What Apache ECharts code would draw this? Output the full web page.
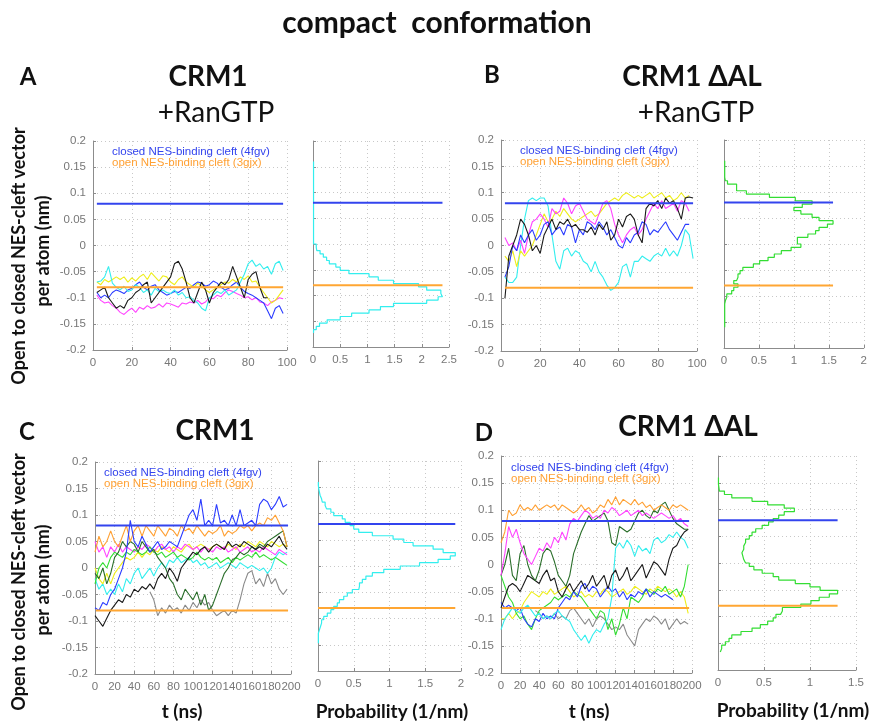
<!DOCTYPE html>
<html>
<head>
<meta charset="utf-8">
<script src="https://cdn.jsdelivr.net/npm/echarts@6/dist/echarts.min.js"></script>
<style>
html, body { margin: 0; padding: 0; background: #fff; }
#main { width: 870px; height: 722px; }
</style>
</head>
<body>
<div id="main"></div>
<script>
// time axes
var tAB = [2,4,6,8,10,12,14,16,18,20,22,24,26,28,30,32,34,36,38,40,42,44,46,48,50,52,54,56,58,60,62,64,66,68,70,72,74,76,78,80,82,84,86,88,90,92,94,96,98];
var tCD = [0,4,8,12,16,20,24,28,32,36,40,44,48,52,56,60,64,68,72,76,80,84,88,92,96,100,104,108,112,116,120,124,128,132,136,140,144,148,152,156,160,164,168,172,176,180,184,188,192,196];

// reference structures
var refClosed = 0.08;
var refOpen = -0.08;

// panel A: CRM1 + RanGTP
var aCyan = [-0.07,-0.068,-0.06,-0.04,-0.072,-0.08,-0.085,-0.078,-0.088,-0.085,-0.075,-0.08,-0.09,-0.085,-0.095,-0.082,-0.088,-0.085,-0.09,-0.092,-0.085,-0.095,-0.09,-0.1,-0.098,-0.105,-0.11,-0.12,-0.125,-0.1,-0.095,-0.088,-0.092,-0.085,-0.095,-0.09,-0.085,-0.07,-0.055,-0.035,-0.028,-0.04,-0.035,-0.045,-0.04,-0.055,-0.035,-0.03,-0.048];
var aYellow = [-0.07,-0.075,-0.065,-0.07,-0.065,-0.06,-0.065,-0.06,-0.07,-0.062,-0.068,-0.06,-0.055,-0.065,-0.052,-0.06,-0.068,-0.058,-0.06,-0.07,-0.075,-0.065,-0.06,-0.07,-0.075,-0.08,-0.072,-0.078,-0.085,-0.09,-0.085,-0.08,-0.075,-0.07,-0.072,-0.065,-0.07,-0.06,-0.065,-0.058,-0.07,-0.068,-0.08,-0.09,-0.1,-0.11,-0.105,-0.095,-0.085];
var aBlack = [-0.09,-0.085,-0.08,-0.1,-0.11,-0.12,-0.115,-0.12,-0.105,-0.1,-0.09,-0.085,-0.075,-0.07,-0.11,-0.1,-0.09,-0.08,-0.07,-0.06,-0.035,-0.03,-0.045,-0.07,-0.1,-0.11,-0.09,-0.07,-0.085,-0.11,-0.09,-0.08,-0.07,-0.075,-0.065,-0.04,-0.06,-0.08,-0.1,-0.065,-0.055,-0.05,-0.08,-0.1,-0.1,null,null,null,null];
var aBlue = [-0.09,-0.1,-0.095,-0.1,-0.09,-0.085,-0.088,-0.092,-0.085,-0.082,-0.075,-0.07,-0.08,-0.085,-0.078,-0.075,-0.085,-0.09,-0.095,-0.092,-0.088,-0.09,-0.085,-0.08,-0.082,-0.075,-0.07,-0.072,-0.078,-0.075,-0.068,-0.072,-0.08,-0.085,-0.082,-0.075,-0.07,-0.08,-0.088,-0.092,-0.095,-0.1,-0.105,-0.11,-0.125,-0.14,-0.12,-0.115,-0.13];
var aMagenta = [-0.095,-0.105,-0.11,-0.108,-0.115,-0.12,-0.128,-0.132,-0.125,-0.12,-0.128,-0.118,-0.122,-0.115,-0.12,-0.118,-0.112,-0.118,-0.11,-0.112,-0.115,-0.118,-0.11,-0.112,-0.108,-0.11,-0.105,-0.112,-0.108,-0.1,-0.102,-0.095,-0.098,-0.09,-0.085,-0.088,-0.092,-0.095,-0.1,-0.098,-0.104,-0.1,-0.108,-0.11,-0.115,-0.108,-0.105,-0.1,-0.102];

// panel B: CRM1 dAL + RanGTP
var bBlack = [-0.1,-0.02,0.0,0.02,0.05,0.04,0.02,-0.01,0.0,-0.015,0.02,0.035,0.05,0.03,0.045,0.04,0.05,0.035,0.04,0.03,0.03,0.025,0.035,0.02,0.04,0.03,0.045,0.01,0.02,0.05,0.035,0.055,0.06,0.05,0.02,0.005,0.07,0.08,0.075,0.085,0.07,0.09,0.08,0.085,0.07,0.05,0.09,0.092,0.09];
var bCyan = [-0.06,-0.07,-0.07,-0.06,0.0,0.05,0.085,0.09,0.085,0.09,0.09,0.075,0.02,-0.03,-0.045,-0.01,-0.005,-0.02,-0.01,-0.015,-0.03,-0.035,-0.05,-0.03,-0.05,-0.06,-0.075,-0.085,-0.08,-0.07,-0.04,-0.035,-0.06,-0.03,-0.03,-0.02,-0.025,-0.03,-0.02,-0.015,-0.02,-0.005,-0.02,-0.01,-0.02,0.0,0.03,0.02,-0.025];
var bYellow = [-0.02,-0.03,-0.01,-0.04,-0.01,-0.02,-0.01,0.0,0.02,0.04,0.06,0.045,0.05,0.065,0.055,0.07,0.06,0.05,0.045,0.05,0.055,0.06,0.065,0.055,0.06,0.07,0.08,0.085,0.09,0.085,0.095,0.1,0.095,0.09,0.095,0.09,0.095,0.1,0.09,0.095,0.1,0.09,0.095,0.085,0.09,0.1,0.09,0.095,null];
var bMagenta = [0.015,0.0,0.005,-0.01,0.01,-0.015,0.02,0.045,0.05,0.06,0.05,0.035,0.07,0.06,0.065,0.09,0.08,0.06,0.075,0.08,0.065,0.05,0.045,0.04,0.06,0.08,0.085,0.07,0.04,0.02,0.005,0.02,0.03,0.035,0.02,0.03,0.05,0.065,0.08,0.07,0.085,0.07,0.075,0.08,0.065,0.085,0.08,0.065,null];
var bBlue = [-0.06,-0.04,0.0,-0.01,0.02,0.005,0.02,0.03,0.01,0.02,0.04,0.045,0.02,0.03,0.035,0.02,0.04,0.035,0.005,0.03,0.02,0.045,0.04,0.03,0.045,0.035,0.02,0.03,0.015,0.0,-0.005,0.015,0.005,0.02,0.025,0.045,0.04,0.02,0.03,0.025,0.035,0.045,0.03,0.02,0.01,0.025,0.04,0.04,null];

// panel C: CRM1
var cBlue = [-0.075,-0.08,-0.065,-0.07,-0.05,-0.04,-0.02,0.0,0.03,0.09,0.05,0.04,0.06,0.045,0.03,0.04,0.05,0.035,0.04,0.05,0.045,0.04,0.06,0.08,0.1,0.11,0.09,0.13,0.08,0.09,0.08,0.12,0.085,0.09,0.08,0.1,0.08,0.11,0.08,0.085,0.09,0.08,0.12,0.13,0.125,0.11,0.12,0.135,0.115,0.12];
var cOrange = [0.03,0.06,0.04,0.05,0.07,0.05,0.04,0.06,0.08,0.05,0.07,0.08,0.06,0.08,0.07,0.06,0.08,0.07,0.06,0.075,0.07,0.06,0.08,0.07,0.075,0.065,0.08,0.07,0.06,0.07,0.065,0.07,0.08,0.06,0.07,0.065,0.07,0.08,0.075,0.08,0.07,0.08,0.085,0.08,0.095,0.09,0.1,0.085,0.07,0.04];
var cBlack = [-0.09,-0.1,-0.11,-0.095,-0.08,-0.07,-0.06,-0.065,-0.05,-0.055,-0.04,-0.045,-0.035,-0.04,-0.03,-0.04,-0.02,-0.01,-0.02,0.0,-0.01,-0.025,0.0,0.01,0.02,0.03,0.025,0.035,0.04,0.03,0.04,0.045,0.04,0.035,0.05,0.04,0.045,0.04,0.05,0.045,0.04,0.035,0.04,0.035,0.045,0.04,0.05,0.06,0.045,0.035];
var cDarkGreen = [-0.01,-0.02,0.0,-0.03,-0.01,0.02,0.03,0.05,0.04,0.05,0.045,0.03,0.05,0.04,0.03,0.035,0.02,0.01,0.0,-0.02,-0.03,-0.05,-0.06,-0.04,-0.05,-0.06,-0.045,-0.07,-0.05,-0.08,-0.07,-0.05,-0.03,-0.01,0.0,0.015,0.02,0.03,0.025,0.03,0.04,0.035,0.045,0.04,0.05,0.055,0.06,0.065,0.07,0.04];
var cGreen = [-0.03,0.0,0.01,0.0,0.02,0.03,0.025,0.02,0.03,0.025,0.035,0.03,0.025,0.03,0.04,0.03,0.025,0.03,0.02,0.025,0.03,0.02,0.025,0.02,0.015,0.02,0.03,0.02,0.015,0.02,0.015,0.02,0.01,0.015,0.02,0.01,0.02,0.015,0.02,0.025,0.02,0.03,0.02,0.025,0.02,0.015,0.02,0.015,0.01,0.005];
var cMagenta = [0.05,0.03,0.04,0.02,0.04,0.03,0.045,0.03,0.04,0.035,0.03,0.04,0.035,0.045,0.04,0.03,0.04,0.045,0.035,0.04,0.03,0.04,0.035,0.045,0.04,0.035,0.04,0.03,0.04,0.035,0.03,0.04,0.035,0.04,0.03,0.035,0.04,0.03,0.035,0.04,0.03,0.035,0.03,0.04,0.035,0.03,0.025,0.035,0.03,0.025];
var cYellow = [0.0,-0.02,-0.03,-0.01,-0.03,-0.01,0.0,0.01,0.02,0.015,0.02,0.03,0.02,0.03,0.025,0.035,0.03,0.04,0.035,0.03,0.04,0.035,0.03,0.04,0.045,0.035,0.04,0.045,0.04,0.035,0.04,0.045,0.04,0.035,0.045,0.04,0.035,0.045,0.04,0.05,0.045,0.04,0.05,0.045,0.04,0.05,0.045,0.04,0.045,0.04];
var cCyan = [-0.02,-0.04,-0.03,-0.05,-0.04,-0.05,-0.03,-0.045,-0.02,-0.03,-0.01,0.0,-0.02,-0.01,0.0,-0.015,0.0,0.01,0.0,0.015,0.01,0.02,0.01,0.015,0.02,0.01,0.015,0.005,0.01,0.0,0.005,0.01,0.0,0.005,0.01,0.005,0.0,0.01,0.005,0.0,0.005,0.0,-0.005,0.0,-0.01,0.0,0.02,0.03,0.025,0.03];
var cGray = [null,null,null,null,null,null,null,null,null,null,null,null,null,null,-0.045,-0.06,-0.09,-0.075,-0.085,-0.07,-0.08,-0.075,-0.085,-0.07,-0.08,-0.065,-0.075,-0.06,-0.07,-0.065,-0.08,-0.09,-0.085,-0.08,-0.09,-0.08,-0.085,-0.06,-0.03,-0.01,-0.005,-0.03,-0.02,-0.035,-0.01,-0.03,-0.02,-0.04,-0.05,-0.04];

// panel D: CRM1 dAL
var dOrange = [0.04,0.06,0.1,0.09,0.095,0.11,0.1,0.105,0.1,0.11,0.1,0.105,0.11,0.105,0.11,0.1,0.11,0.105,0.1,0.095,0.1,0.11,0.1,0.105,0.095,0.1,0.11,0.105,0.12,0.11,0.125,0.11,0.12,0.115,0.11,0.12,0.11,0.115,0.105,0.11,0.1,0.105,0.11,0.105,0.1,0.11,0.105,0.11,0.105,0.1];
var dMagenta = [-0.02,0.02,0.07,0.05,0.065,0.04,0.02,0.01,0.0,0.015,0.03,0.025,0.04,0.03,0.05,0.04,0.06,0.045,0.075,0.085,0.08,0.09,0.1,0.095,0.085,0.09,0.085,0.1,0.095,0.105,0.1,0.09,0.095,0.1,0.09,0.095,0.1,0.09,0.095,0.09,0.085,0.09,0.095,0.09,0.085,0.09,0.08,0.085,0.075,0.07];
var dDarkGreen = [-0.02,0.0,0.03,-0.02,-0.03,0.02,0.035,0.0,-0.02,-0.03,-0.01,0.02,0.03,0.025,0.005,-0.02,-0.03,-0.04,-0.02,0.02,0.04,0.06,0.075,0.09,0.08,0.085,0.09,0.095,0.08,0.04,0.035,0.07,0.065,0.06,0.065,0.08,0.095,0.1,0.09,0.085,0.1,0.095,0.11,0.115,0.1,0.085,0.075,0.07,0.065,0.065];
var dBlack = [-0.08,-0.06,-0.04,-0.035,-0.04,-0.05,-0.035,-0.02,-0.025,-0.03,-0.035,-0.02,-0.01,-0.03,-0.025,-0.05,-0.06,-0.045,-0.035,-0.05,-0.04,-0.03,-0.045,-0.035,-0.02,-0.04,-0.03,-0.02,-0.045,-0.02,-0.01,-0.03,-0.02,-0.005,-0.03,-0.02,-0.01,0.0,-0.025,-0.01,0.005,0.0,-0.01,-0.02,0.01,0.03,0.035,0.05,0.06,0.065];
var dCyan = [-0.12,-0.1,-0.09,-0.08,-0.085,-0.09,-0.08,-0.075,-0.085,-0.095,-0.09,-0.1,-0.095,-0.1,-0.09,-0.085,-0.095,-0.1,-0.105,-0.12,-0.13,-0.14,-0.13,-0.145,-0.13,-0.12,-0.125,-0.11,-0.1,-0.06,0.03,0.04,0.03,0.045,0.035,0.015,0.035,0.025,0.03,0.02,0.045,0.05,0.04,0.045,0.055,0.05,0.06,0.05,0.045,0.03];
var dBlue = [-0.07,-0.08,-0.075,-0.08,-0.085,-0.08,-0.1,-0.11,-0.115,-0.1,-0.105,-0.09,-0.1,-0.095,-0.1,-0.08,-0.07,-0.06,-0.065,-0.05,-0.06,-0.04,-0.035,-0.05,-0.04,-0.045,-0.06,-0.05,-0.04,-0.05,-0.045,-0.06,-0.05,-0.065,-0.055,-0.06,-0.05,-0.055,-0.045,-0.06,-0.05,-0.055,-0.06,-0.055,-0.06,-0.065,null,null,null,null];
var dYellow = [-0.1,-0.1,-0.09,-0.1,-0.09,-0.085,-0.07,-0.06,-0.05,-0.055,-0.06,-0.05,-0.055,-0.045,-0.055,-0.05,-0.045,-0.04,-0.05,-0.06,-0.055,-0.05,-0.06,-0.055,-0.06,-0.05,-0.055,-0.045,-0.05,-0.06,-0.055,-0.05,-0.045,-0.055,-0.05,-0.04,-0.045,-0.05,-0.055,-0.045,-0.05,-0.04,-0.045,-0.05,-0.045,-0.05,-0.06,-0.05,-0.06,-0.09];
var dGreen = [-0.02,-0.04,-0.06,-0.07,-0.09,-0.1,-0.095,-0.11,-0.12,-0.1,-0.085,-0.08,-0.075,-0.07,-0.06,-0.065,-0.06,-0.055,-0.06,-0.05,-0.055,-0.06,-0.07,-0.08,-0.09,-0.1,-0.085,-0.09,-0.12,-0.1,-0.13,-0.11,-0.08,-0.1,-0.06,-0.065,-0.07,-0.06,-0.045,-0.05,-0.055,-0.045,-0.05,-0.04,-0.055,-0.05,-0.045,-0.06,-0.04,0.0];
var dGray = [null,null,null,null,null,null,null,null,null,-0.085,-0.09,-0.1,-0.095,-0.1,-0.09,-0.1,-0.095,-0.1,-0.085,-0.08,-0.09,-0.1,-0.11,-0.1,-0.115,-0.1,-0.095,-0.1,-0.11,-0.12,-0.115,-0.12,-0.11,-0.13,-0.14,-0.15,-0.12,-0.11,-0.1,-0.105,-0.095,-0.1,-0.11,-0.1,-0.12,-0.11,-0.1,-0.11,-0.105,-0.11];

// histograms: probability per bin, bins run downward from histTop, width histBin
var histTop = 0.16;
var histBin = 0.0064;
var histA = [0.01,0.01,0.01,0.01,0.01,0.01,0.01,0.01,0.01,0.01,0.01,0.01,0.01,0.01,0.01,0.01,0.01,0.01,0.01,0.01,0.01,0.01,0.01,0.01,0.01,0.06,0.07,0.13,0.19,0.25,0.3,0.42,0.5,0.66,1.03,1.2,1.48,1.94,2.09,2.35,2.38,2.3,2.09,1.48,1.24,1.03,0.71,0.5,0.26,0.12,0.06,0.01];
var histB = [0.01,0.01,0.01,0.01,0.01,0.02,0.05,0.18,0.18,0.32,0.65,1.02,1.26,1.12,1.0,1.1,1.26,1.36,1.56,1.48,1.36,1.31,1.2,1.05,1.05,1.1,0.96,0.82,0.72,0.63,0.51,0.42,0.27,0.23,0.2,0.18,0.14,0.2,0.14,0.11,0.04,0.02,0.01,0.01,0.01,0.01,0.01,0.01,0.01,0.01];
var histC = [0.005,0.01,0.02,0.03,0.05,0.06,0.1,0.12,0.18,0.22,0.34,0.38,0.45,0.5,0.57,0.76,1.05,1.2,1.33,1.61,1.75,1.92,1.85,1.68,1.42,1.15,0.92,0.76,0.67,0.62,0.58,0.57,0.48,0.41,0.36,0.3,0.27,0.22,0.18,0.13,0.08,0.05,0.035,0.02,0.005,0.005,0.005,0.005];
var histD = [0.005,0.005,0.01,0.015,0.07,0.15,0.37,0.54,0.72,0.83,0.72,0.66,0.6,0.55,0.48,0.41,0.37,0.34,0.3,0.28,0.28,0.26,0.27,0.28,0.3,0.34,0.39,0.48,0.6,0.66,0.84,1.0,1.11,1.3,1.21,1.1,1.01,0.9,0.7,0.68,0.63,0.6,0.54,0.46,0.37,0.25,0.15,0.12,0.08,0.04,0.025];

var C = {
    blue: '#2b3cff', orange: '#ffa033', black: '#1a1a1a', yellow: '#eeee1a',
    magenta: '#ff44ff', cyan: '#33eeee', green: '#33dd33', darkGreen: '#2a6e2a',
    gray: '#8a8a8a', refBlue: '#3344ee', refOrange: '#ffa633', axis: '#8c8c8c', label: '#777'
};
var FONT = 'Lato, "Open Sans", sans-serif';
var LBL = '"Liberation Sans", Arial, sans-serif';

var chart = echarts.init(document.getElementById('main'));

// grid boxes in pixels: [left, top, width, height]
var boxes = [
    [93, 141, 194, 209], [313, 141, 136, 206],
    [501, 140, 196, 211], [724, 140, 141, 208],
    [95, 462, 196, 212], [318, 461, 143, 210],
    [501, 456, 191, 217], [718, 456, 138, 214]
];
var xMax = [100, 2.5, 100, 2, 200, 2, 200, 1.5];
var isHist = [false, true, false, true, false, true, false, true];

var grids = [], xAxes = [], yAxes = [];
for (var i = 0; i < boxes.length; i++) {
    var b = boxes[i];
    grids.push({left: b[0], top: b[1], width: b[2], height: b[3], containLabel: false});
    xAxes.push({
        type: 'value', gridIndex: i, min: 0, max: xMax[i],
        interval: isHist[i] ? 0.5 : 20,
        axisLine: {show: true, onZero: false, lineStyle: {color: C.axis, width: 1}},
        axisTick: {show: true, inside: true, length: 3, lineStyle: {color: C.axis}},
        axisLabel: {color: C.label, fontFamily: LBL, fontSize: 11.5, margin: 7},
        splitLine: {show: true, lineStyle: {color: '#c8c8c8', type: [1, 3], width: 1}}
    });
    yAxes.push({
        type: 'value', gridIndex: i, min: -0.2, max: 0.2, interval: 0.05,
        axisLine: {show: true, onZero: false, lineStyle: {color: C.axis, width: 1}},
        axisTick: {show: true, inside: true, length: 3, lineStyle: {color: C.axis}},
        axisLabel: {show: !isHist[i], color: C.label, fontFamily: LBL, fontSize: 11.5, margin: 7,
            formatter: function (v) { return String(Math.round(v * 100) / 100); }},
        splitLine: {show: true, lineStyle: {color: '#c8c8c8', type: [1, 3], width: 1}}
    });
}

function zip(t, v) {
    var out = [];
    for (var k = 0; k < t.length; k++) {
        if (v[k] !== null) out.push([t[k], v[k]]);
    }
    return out;
}

function stepPoints(probs) {
    var pts = [];
    for (var k = 0; k < probs.length; k++) {
        var hi = histTop - k * histBin;
        pts.push([probs[k], hi]);
        pts.push([probs[k], hi - histBin]);
    }
    return pts;
}

function maxOf(a) { return Math.max.apply(null, a); }

var series = [];
function line(g, data, color, width, z) {
    series.push({
        type: 'line', xAxisIndex: g, yAxisIndex: g, data: data,
        showSymbol: false, symbol: 'none', silent: true, z: z || 2,
        lineStyle: {color: color, width: width}
    });
}
function ts(g, t, vals, color) { line(g, zip(t, vals), color, 1.1); }
function refs(g, x0, x1) {
    line(g, [[x0, refClosed], [x1, refClosed]], C.refBlue, 2, 3);
    line(g, [[x0, refOpen], [x1, refOpen]], C.refOrange, 2, 3);
}

// A
ts(0, tAB, aMagenta, C.magenta);
ts(0, tAB, aBlue, C.blue);
ts(0, tAB, aYellow, C.yellow);
ts(0, tAB, aCyan, C.cyan);
refs(0, 2, 98);
ts(0, tAB, aBlack, C.black);
line(1, stepPoints(histA), C.cyan, 1.2);
refs(1, 0, maxOf(histA));

// B
ts(2, tAB, bCyan, C.cyan);
ts(2, tAB, bYellow, C.yellow);
ts(2, tAB, bMagenta, C.magenta);
ts(2, tAB, bBlue, C.blue);
ts(2, tAB, bBlack, C.black);
refs(2, 2, 98);
line(3, stepPoints(histB), C.green, 1.2);
refs(3, 0, maxOf(histB));

// C
ts(4, tCD, cGray, C.gray);
ts(4, tCD, cCyan, C.cyan);
ts(4, tCD, cYellow, C.yellow);
ts(4, tCD, cMagenta, C.magenta);
ts(4, tCD, cGreen, C.green);
ts(4, tCD, cDarkGreen, C.darkGreen);
ts(4, tCD, cBlack, C.black);
ts(4, tCD, cOrange, C.orange);
ts(4, tCD, cBlue, C.blue);
refs(4, 1, 197);
line(5, stepPoints(histC), C.cyan, 1.2);
refs(5, 0, maxOf(histC));

// D
ts(6, tCD, dGray, C.gray);
ts(6, tCD, dYellow, C.yellow);
ts(6, tCD, dGreen, C.green);
ts(6, tCD, dBlue, C.blue);
ts(6, tCD, dCyan, C.cyan);
ts(6, tCD, dBlack, C.black);
ts(6, tCD, dDarkGreen, C.darkGreen);
ts(6, tCD, dMagenta, C.magenta);
ts(6, tCD, dOrange, C.orange);
refs(6, 1, 197);
line(7, stepPoints(histD), C.green, 1.2);
refs(7, 0, maxOf(histD));

function txt(x, y, s, font, color, rot) {
    return {
        type: 'text', x: x, y: y, rotation: rot || 0, silent: true, z: 10,
        style: {text: s, font: font, fill: color || '#111', textAlign: 'center', textVerticalAlign: 'middle',
            align: 'center', verticalAlign: 'middle'}
    };
}
function legendTxt(x, y) {
    var f = '11.5px ' + LBL;
    return [
        {type: 'text', x: x, y: y, silent: true, z: 10, style: {text: 'closed NES-binding cleft (4fgv)', font: f, fill: '#3344ee', textVerticalAlign: 'middle', verticalAlign: 'middle'}},
        {type: 'text', x: x, y: y + 11, silent: true, z: 10, style: {text: 'open NES-binding cleft (3gjx)', font: f, fill: '#ffa033', textVerticalAlign: 'middle', verticalAlign: 'middle'}}
    ];
}

var B = 'bold ';
var graphics = [
    txt(437, 23, 'compact  conformation', B + '30px ' + FONT),
    txt(28, 77, 'A', B + '24px ' + FONT),
    txt(208, 77, 'CRM1', B + '28px ' + FONT),
    txt(216, 113, '+RanGTP', '28px ' + FONT),
    txt(492, 75, 'B', B + '24px ' + FONT),
    txt(692, 77, 'CRM1 \u0394AL', B + '28px ' + FONT),
    txt(696, 113, '+RanGTP', '28px ' + FONT),
    txt(27, 432, 'C', B + '24px ' + FONT),
    txt(215, 431, 'CRM1', B + '28px ' + FONT),
    txt(484, 433, 'D', B + '24px ' + FONT),
    txt(688, 427, 'CRM1 \u0394AL', B + '28px ' + FONT),
    txt(182, 712, 't (ns)', B + '19px ' + FONT),
    txt(392, 712, 'Probability (1/nm)', B + '19px ' + FONT),
    txt(589, 712, 't (ns)', B + '19px ' + FONT),
    txt(793, 711, 'Probability (1/nm)', B + '19px ' + FONT),
    txt(19, 256, 'Open to closed NES-cleft vector', B + '18px ' + FONT, '#111', Math.PI / 2),
    txt(43, 251, 'per atom (nm)', B + '18px ' + FONT, '#111', Math.PI / 2),
    txt(19, 582, 'Open to closed NES-cleft vector', B + '18px ' + FONT, '#111', Math.PI / 2),
    txt(43, 580, 'per atom (nm)', B + '18px ' + FONT, '#111', Math.PI / 2)
].concat(legendTxt(112, 152), legendTxt(520, 151), legendTxt(104, 473), legendTxt(511, 468));

chart.setOption({
    animation: false,
    backgroundColor: '#fff',
    grid: grids,
    xAxis: xAxes,
    yAxis: yAxes,
    series: series,
    graphic: graphics
});
</script>
</body>
</html>
